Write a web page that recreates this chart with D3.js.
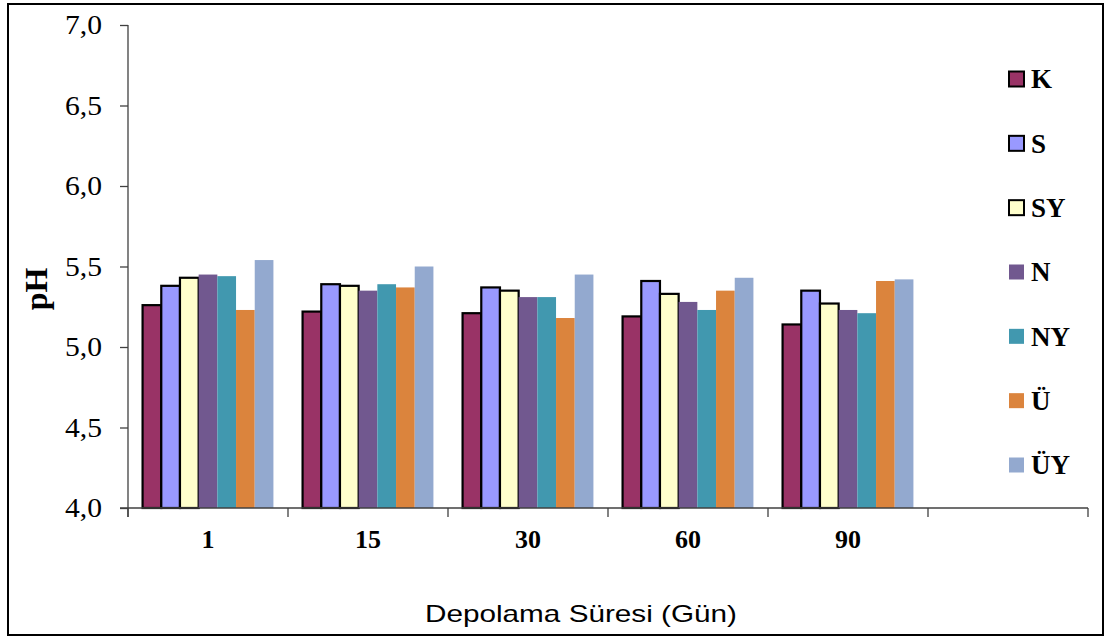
<!DOCTYPE html>
<html>
<head>
<meta charset="utf-8">
<script src="https://cdn.jsdelivr.net/npm/d3@7"></script>
<style>
  html, body { margin: 0; padding: 0; background: #fff; }
  svg { display: block; }
</style>
</head>
<body>
<svg id="chart" width="1105" height="637"></svg>
<script>
// Storage days (last slot left empty as in the original layout)
const categories = ["1", "15", "30", "60", "90", ""];
const seriesNames = ["K", "S", "SY", "N", "NY", "Ü", "ÜY"];
const seriesColors = ["#993366", "#9999FF", "#FFFFCC", "#71588F", "#4198AF", "#DB843D", "#93A9CF"];
const outlined = [true, true, true, false, false, false, false];

// pH values per series, one entry per storage day
const K  = [5.26, 5.22, 5.21, 5.19, 5.14];
const S  = [5.38, 5.39, 5.37, 5.41, 5.35];
const SY = [5.43, 5.38, 5.35, 5.33, 5.27];
const N  = [5.45, 5.35, 5.31, 5.28, 5.23];
const NY = [5.44, 5.39, 5.31, 5.23, 5.21];
const U  = [5.23, 5.37, 5.18, 5.35, 5.41];
const UY = [5.54, 5.50, 5.45, 5.43, 5.42];
const seriesValues = [K, S, SY, N, NY, U, UY];

const yTicks = [4.0, 4.5, 5.0, 5.5, 6.0, 6.5, 7.0];

const svg = d3.select("#chart");
const serif = "'Liberation Serif', 'Times New Roman', serif";
const sans = "'Liberation Sans', Arial, sans-serif";
const axisColor = "#404040";

// outer frame
svg.append("rect")
  .attr("x", 8).attr("y", 4).attr("width", 1095).attr("height", 631)
  .attr("fill", "#fff").attr("stroke", "#000").attr("stroke-width", 2);

const plot = { left: 128, right: 1088, top: 25, bottom: 508 };

const x = d3.scaleBand().domain(categories).range([plot.left, plot.right]).padding(0);
const xInner = d3.scaleBand().domain(d3.range(seriesNames.length))
  .range([0, x.bandwidth()]).paddingInner(0).paddingOuter(0.78);
const y = d3.scaleLinear().domain([4, 7]).range([plot.bottom, plot.top]);

// bars
const groups = svg.append("g");
seriesNames.forEach((name, si) => {
  groups.append("g")
    .selectAll("rect")
    .data(seriesValues[si])
    .join("rect")
    .attr("x", (d, i) => x(categories[i]) + xInner(si))
    .attr("y", d => y(d))
    .attr("width", xInner.bandwidth())
    .attr("height", d => y(4) - y(d))
    .attr("fill", seriesColors[si])
    .attr("stroke", outlined[si] ? "#000" : "none")
    .attr("stroke-width", 2.2);
});

// y axis
const yAxis = svg.append("g")
  .attr("transform", `translate(${plot.left},0)`)
  .call(d3.axisLeft(y).tickValues(yTicks).tickSize(8).tickPadding(18)
    .tickFormat(d => d3.format(".1f")(d).replace(".", ",")));
yAxis.attr("font-family", null).attr("font-size", null);
yAxis.select(".domain").attr("stroke", axisColor).attr("stroke-width", 1.3)
  .attr("d", `M0,${plot.top}V${plot.bottom + 9}`);
yAxis.selectAll(".tick line").attr("stroke", axisColor).attr("stroke-width", 1.3);
yAxis.selectAll(".tick text")
  .style("font-family", serif).style("font-size", "27px").attr("fill", "#000")
  .attr("textLength", 37).attr("lengthAdjust", "spacingAndGlyphs");

// x axis: labels at band centres, tick marks at band boundaries
const xAxis = svg.append("g")
  .attr("transform", `translate(0,${plot.bottom})`)
  .call(d3.axisBottom(x).tickSize(0).tickPadding(22));
xAxis.attr("font-family", null).attr("font-size", null);
xAxis.select(".domain").attr("stroke", axisColor).attr("stroke-width", 1.3)
  .attr("d", `M${plot.left - 8},0H${plot.right}`);
xAxis.selectAll(".tick text")
  .style("font-family", serif).style("font-size", "26px").style("font-weight", "bold").attr("fill", "#000");
const boundaries = categories.map(c => x(c)).concat([x.range()[1]]);
xAxis.selectAll("line.boundary")
  .data(boundaries)
  .join("line")
  .attr("class", "boundary")
  .attr("x1", d => d).attr("x2", d => d)
  .attr("y1", 0).attr("y2", 9)
  .attr("stroke", axisColor).attr("stroke-width", 1.3);

// axis titles
svg.append("text")
  .attr("x", 581).attr("y", 622)
  .attr("text-anchor", "middle")
  .attr("textLength", 312).attr("lengthAdjust", "spacingAndGlyphs")
  .style("font-family", sans).style("font-size", "24px").attr("fill", "#000")
  .text("Depolama Süresi (Gün)");

svg.append("text")
  .attr("transform", "translate(47,289) rotate(-90)")
  .attr("text-anchor", "middle")
  .style("font-family", serif).style("font-size", "32px").style("font-weight", "bold").attr("fill", "#000")
  .text("pH");

// legend
const legendY = d3.scalePoint().domain(seriesNames).range([79, 465]);
const legend = svg.append("g");
const items = legend.selectAll("g").data(seriesNames).join("g")
  .attr("transform", d => `translate(1009,${legendY(d)})`);
items.append("rect")
  .attr("x", 0).attr("y", -7.5).attr("width", 15).attr("height", 15)
  .attr("fill", (d, i) => seriesColors[i])
  .attr("stroke", (d, i) => outlined[i] ? "#000" : "none")
  .attr("stroke-width", 2);
items.append("text")
  .attr("x", 22).attr("y", 0).attr("dy", "0.35em")
  .style("font-family", serif).style("font-size", "27px").style("font-weight", "bold").attr("fill", "#000")
  .text(d => d);
</script>
</body>
</html>
